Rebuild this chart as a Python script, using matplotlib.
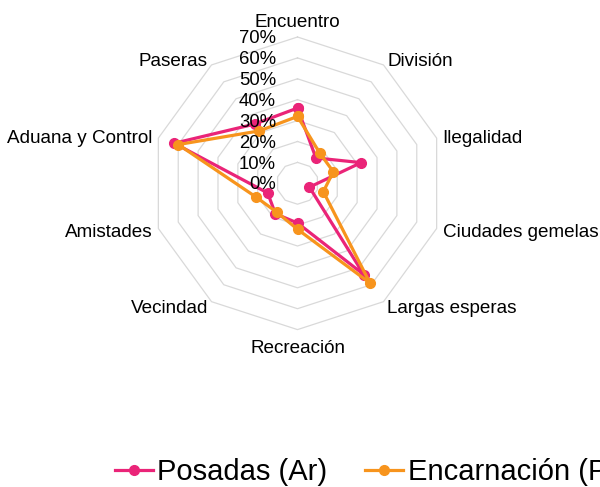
import numpy as np
import matplotlib.pyplot as plt

plt.rcParams['font.family'] = ['Liberation Sans', 'DejaVu Sans']

# Data (percent)
categories = ['Encuentro', 'División', 'Ilegalidad', 'Ciudades gemelas', 'Largas esperas',
              'Recreación', 'Vecindad', 'Amistades', 'Aduana y Control', 'Paseras']
posadas = [36, 15, 32, 6, 54, 19, 18, 15, 62, 35]
encarnacion = [32, 18, 18, 13, 59, 22, 17, 21, 60, 31]
ring_values = [0, 10, 20, 30, 40, 50, 60, 70]
series_names = ['Posadas (Ar)', 'Encarnación (Py)']

PINK = '#EA2478'
ORANGE = '#F7941D'

n = len(categories)
theta = np.deg2rad(90 - 360.0 / n * np.arange(n))


def to_xy(values):
    v = np.asarray(values, dtype=float)
    x = v * np.cos(theta)
    y = v * np.sin(theta)
    return np.append(x, x[0]), np.append(y, y[0])


W, H = 600, 487
fig = plt.figure(figsize=(W / 100, H / 100), dpi=100)
ax = fig.add_axes([0, 0, 1, 1])
scale = 2.09  # px per percent
cx, cy = 297.5, 183.3
ax.set_xlim(-cx / scale, (W - cx) / scale)
ax.set_ylim(-(H - cy) / scale, cy / scale)
ax.axis('off')

# polygon grid
for r in ring_values[1:]:
    gx, gy = to_xy([r] * n)
    ax.plot(gx, gy, color='#D9D9D9', lw=0.9, zorder=1)

# radial tick labels
for r in ring_values:
    ax.text(-10.3, r - 0.8, f'{r}%', ha='right', va='center', fontsize=13.3, zorder=5)

# category labels
for name, t in zip(categories, theta):
    c, s = np.cos(t), np.sin(t)
    if abs(c) < 0.1:
        rr = 78
        ha = 'center'
    else:
        rr = 73
        ha = 'left' if c > 0 else 'right'
    ax.text(rr * c, rr * s - 1.0, name, ha=ha, va='center', fontsize=13.6)

px, py = to_xy(posadas)
ex, ey = to_xy(encarnacion)
l1, = ax.plot(px, py, color=PINK, lw=2.3, marker='o', markersize=7, zorder=3)
l2, = ax.plot(ex, ey, color=ORANGE, lw=2.3, marker='o', markersize=7, zorder=4)

fig.legend([l1, l2], series_names, loc='center left',
           bbox_to_anchor=(115 / W, (H - 472.5) / H), ncol=2, frameon=False,
           fontsize=21, borderpad=0, borderaxespad=0, handlelength=1.3,
           handletextpad=0.15, columnspacing=1.3, markerscale=1.0)

fig.savefig('out.png', dpi=100)
